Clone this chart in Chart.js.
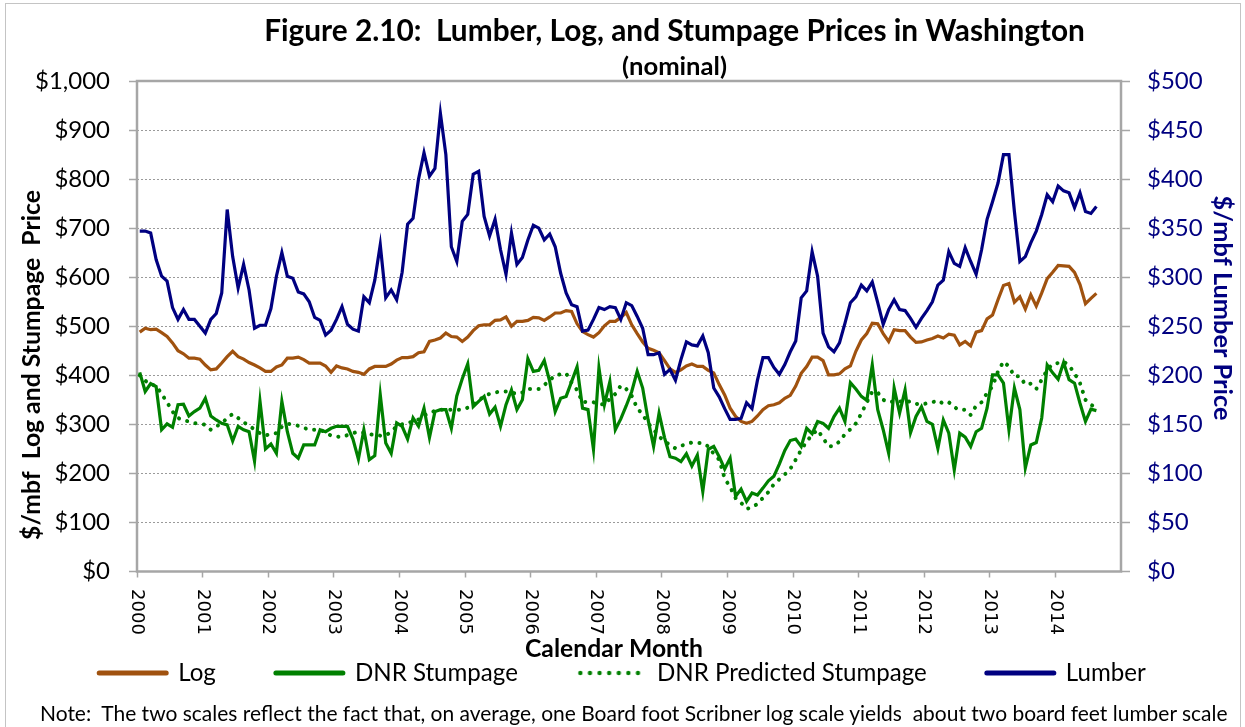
<!DOCTYPE html>
<html><head><meta charset="utf-8">
<script src="https://cdn.jsdelivr.net/npm/chart.js@4.4.1/dist/chart.umd.min.js"></script>
<style>
html,body{margin:0;padding:0;background:#fff;}
#wrap{position:relative;width:1245px;height:727px;overflow:hidden;background:#fff;}
canvas{position:absolute;left:0;top:0;}
#frame{position:absolute;left:5px;top:3px;width:1236px;height:760px;border:1.5px solid #c4c4c4;box-sizing:border-box;pointer-events:none;}
#note{position:absolute;left:40px;white-space:pre;color:#000;line-height:1;font-family:Lato,sans-serif;}
</style></head><body>
<div id="wrap"><canvas id="c" width="1245" height="727"></canvas><div id="frame"></div><div id="note"></div></div>
<script>
// ---------------- data ----------------
const years = [2000,2001,2002,2003,2004,2005,2006,2007,2008,2009,2010,2011,2012,2013,2014];
const monthNames = ['Jan','Feb','Mar','Apr','May','Jun','Jul','Aug','Sep','Oct','Nov','Dec'];
const yearLabels = years.map(String);
const months = [];
years.forEach(y => monthNames.forEach(m => months.push(m + ' ' + y)));

const logPrice = [488,496,493,494,487,479,466,450,444,435,
 435,433,421,411,413,425,438,449,438,433,
 426,421,415,408,408,417,421,435,435,437,
 432,425,425,425,419,406,419,415,413,408,
 406,402,413,418,418,418,423,431,436,436,
 438,446,448,469,472,476,486,479,478,469,
 478,491,501,503,503,512,513,519,500,510,
 510,512,518,517,512,519,527,527,532,530,
 505,489,483,478,487,501,510,510,518,528,
 503,485,468,455,451,446,430,413,406,411,
 419,423,418,418,410,405,381,360,333,316,
 306,302,306,317,330,338,340,344,353,359,
 378,404,418,437,437,430,401,401,403,413,
 419,449,472,485,506,505,485,469,493,491,
 491,478,467,468,472,475,480,476,484,482,
 462,469,460,488,491,515,523,554,583,587,
 549,560,535,564,541,568,597,610,624,623,
 622,610,585,546,557,567];

const dnrStumpage = [406,367,383,377,289,301,294,340,341,317,
 326,333,353,317,309,302,299,266,296,289,
 285,225,347,250,260,241,347,285,241,231,
 258,258,258,289,285,292,296,296,296,270,
 229,289,228,236,360,262,241,303,296,270,
 313,296,333,273,326,330,330,292,358,393,
 423,336,347,357,321,335,296,340,370,330,
 350,434,408,410,430,387,326,353,357,387,
 417,333,330,249,415,340,387,289,311,338,
 367,408,374,309,255,323,273,234,231,224,
 240,215,237,163,249,255,234,209,231,153,
 168,143,160,156,170,185,194,219,247,267,
 270,255,292,281,306,302,292,316,333,306,
 385,372,357,349,421,330,289,241,374,323,
 370,283,316,336,306,300,251,309,282,207,
 282,274,255,285,292,333,401,401,384,289,
 374,330,211,258,263,313,421,405,392,426,
 391,384,343,306,331,328];

const dnrPredicted = [400,389,381,379,362,345,326,313,308,306,
 302,302,299,289,296,302,313,321,313,304,
 298,289,282,277,281,282,295,301,300,297,
 293,289,289,289,283,277,275,274,278,282,
 285,283,280,278,277,277,285,296,300,304,
 305,310,318,322,328,330,330,330,330,330,
 334,340,348,358,362,365,367,367,365,362,
 365,372,372,372,380,390,400,402,404,385,
 370,345,346,345,342,340,352,362,379,372,
 358,333,320,302,290,275,266,258,251,256,
 260,263,262,262,255,240,228,190,172,150,
 140,128,130,138,150,162,178,188,198,209,
 228,248,265,279,289,272,255,256,265,280,
 290,302,322,345,367,365,350,345,347,347,
 345,347,342,340,343,345,349,342,345,335,
 329,330,319,338,345,364,377,408,428,418,
 398,398,381,383,372,391,411,423,425,428,
 420,404,384,350,340,333];

const lumberPrice = [347,347,345,318,301,296,269,257,267,257,
 257,250,243,257,263,284,369,321,289,313,
 287,248,251,251,268,301,325,301,299,285,
 283,275,259,256,241,246,257,270,252,247,
 245,280,274,297,333,279,287,277,305,354,
 360,400,427,403,411,467,425,331,316,357,
 364,405,408,362,342,359,328,303,345,313,
 320,338,353,350,338,344,331,304,284,272,
 270,245,246,257,269,267,270,269,257,274,
 271,260,248,221,221,223,201,206,195,216,
 234,231,230,240,223,187,178,166,155,155,
 156,172,166,195,218,218,208,201,211,224,
 235,279,286,326,301,243,229,224,233,253,
 274,280,292,286,295,274,252,267,277,267,
 266,258,249,258,266,275,292,297,326,314,
 311,330,316,303,328,359,377,396,425,425,
 367,316,321,335,347,364,384,377,393,388,
 386,371,386,367,365,372];

// ---------------- text ----------------
const TITLE = 'Figure 2.10:  Lumber, Log, and Stumpage Prices in Washington';
const SUBTITLE = '(nominal)';
const Y_LEFT_TITLE = '$/mbf  Log and Stumpage  Price';
const Y_RIGHT_TITLE = '$/mbf Lumber Price';
const X_TITLE = 'Calendar Month';
const NOTE = 'Note:  The two scales reflect the fact that, on average, one Board foot Scribner log scale yields  about two board feet lumber scale';

// ---------------- style ----------------
const FONT = 'Lato';
const BROWN = '#A0520F', GREEN = '#008000', NAVY = '#000080', GRAY = '#a6a6a6';
const mctx = document.createElement('canvas').getContext('2d');
function fit(text, weight, family, target) {
  mctx.font = weight + ' 100px ' + family;
  return 100 * target / mctx.measureText(text).width;
}
const S = {
  title: fit(TITLE, 'bold', FONT, 821),
  sub: fit(SUBTITLE, 'bold', FONT, 105),
  tick: fit('$1,000', 'normal', FONT, 75),
  yl: fit(Y_LEFT_TITLE, 'bold', FONT, 350),
  yr: fit(Y_RIGHT_TITLE, 'bold', FONT, 225),
  xt: fit(X_TITLE, 'bold', FONT, 178),
  legend: fit('DNR Predicted Stumpage', 'normal', FONT, 270),
  note: fit(NOTE, 'normal', FONT, 1190),
  year: fit('2000', 'normal', '"DejaVu Sans"', 46)
};
const AREA_TOP = 81, AREA_BOTTOM = 571.5, AREA_LEFT = 137, AREA_RIGHT = 1121;
const pt1 = 31 - 0.6 * S.title;
const h1 = pt1 + 1.2 * S.title;
const spt = 67 - 0.6 * S.sub - h1;
const spb = AREA_TOP - (h1 + spt + 1.2 * S.sub);
const LEGEND_H = S.legend + 70;
const HX = 727 - AREA_BOTTOM - LEGEND_H;

// dotted legend sample
const dotImg = document.createElement('canvas');
dotImg.width = 68; dotImg.height = 6;
(function () {
  const d = dotImg.getContext('2d');
  d.fillStyle = GREEN;
  for (let x = 3; x < 68; x += 9.6) { d.beginPath(); d.arc(x, 3, 2.2, 0, 2 * Math.PI); d.fill(); }
})();

const note = document.getElementById('note');
note.textContent = NOTE;
note.style.fontSize = S.note + 'px';
note.style.top = (712 - S.note / 2) + 'px';

const decor = {
  id: 'decor',
  afterLayout(chart) {
    const lg = chart.legend;
    const top = 673 - S.legend / 2 - 60;
    const h = lg.height;
    lg.top = top; lg.bottom = top + h;
    chart.boxes.forEach(b => {
      if (b.options && (b.options.text === TITLE || b.options.text === SUBTITLE)) { b.left += 52; b.right += 52; }
    });
  },
  beforeDatasetsDraw(chart) {
    const {ctx, chartArea: a} = chart;
    ctx.save();
    ctx.strokeStyle = GRAY; ctx.lineWidth = 2.5;
    ctx.strokeRect(a.left, a.top, a.right - a.left, a.bottom - a.top);
    ctx.restore();
  },
  afterDraw(chart) {
    const ctx = chart.ctx; const xs = chart.scales.x;
    const w = xs.getPixelForValue(1) - xs.getPixelForValue(0);
    ctx.save();
    ctx.fillStyle = '#000';
    ctx.font = S.year + 'px "DejaVu Sans"';
    ctx.textAlign = 'left'; ctx.textBaseline = 'middle';
    yearLabels.forEach((lab, j) => {
      const x = xs.getPixelForValue(j * 12) - w / 2;
      ctx.save(); ctx.translate(x, 589); ctx.rotate(Math.PI / 2); ctx.fillText(lab, 0, 0); ctx.restore();
    });
    ctx.textAlign = 'center';
    ctx.font = 'bold ' + S.xt + 'px ' + FONT;
    ctx.fillText(X_TITLE, 614, 649);
    ctx.font = 'bold ' + S.yl + 'px ' + FONT;
    ctx.save(); ctx.translate(32, 365); ctx.rotate(-Math.PI / 2); ctx.fillText(Y_LEFT_TITLE, 0, 0); ctx.restore();
    ctx.fillStyle = NAVY;
    ctx.font = 'bold ' + S.yr + 'px ' + FONT;
    ctx.save(); ctx.translate(1222, 308); ctx.rotate(Math.PI / 2); ctx.fillText(Y_RIGHT_TITLE, 0, 0); ctx.restore();
    ctx.restore();
  }
};

new Chart(document.getElementById('c'), {
  type: 'line',
  data: {
    labels: months,
    datasets: [
      {label: 'Log', data: logPrice, yAxisID: 'y', borderColor: BROWN, backgroundColor: BROWN, borderWidth: 3.2, pointRadius: 0, tension: 0, order: 3, pointStyle: 'line'},
      {label: 'DNR Stumpage', data: dnrStumpage, yAxisID: 'y', borderColor: GREEN, backgroundColor: GREEN, borderWidth: 3.2, pointRadius: 0, tension: 0, order: 2, pointStyle: 'line'},
      {label: 'DNR Predicted Stumpage', data: dnrPredicted, yAxisID: 'y', borderColor: GREEN, backgroundColor: GREEN, borderWidth: 4, borderDash: [0.1, 8.5], borderCapStyle: 'round', pointRadius: 0, tension: 0, order: 1, pointStyle: 'line'},
      {label: 'Lumber', data: lumberPrice, yAxisID: 'y1', borderColor: NAVY, backgroundColor: NAVY, borderWidth: 3.2, pointRadius: 0, tension: 0, order: 0, pointStyle: 'line'}
    ]
  },
  options: {
    responsive: false, animation: false, events: [],
    layout: {padding: 0},
    plugins: {
      title: {display: true, text: TITLE, color: '#000', font: {family: FONT, size: S.title, weight: 'bold'}, padding: {top: pt1, bottom: 0}},
      subtitle: {display: true, text: SUBTITLE, color: '#000', font: {family: FONT, size: S.sub, weight: 'bold'}, padding: {top: spt, bottom: spb}},
      legend: {
        position: 'bottom',
        labels: {
          usePointStyle: true, pointStyleWidth: 67, padding: 60, color: '#000',
          font: {family: FONT, size: S.legend},
          sort: (a, b) => a.datasetIndex - b.datasetIndex,
          generateLabels(chart) {
            return Chart.defaults.plugins.legend.labels.generateLabels(chart).map(it => Object.assign(it, {
              pointStyle: it.datasetIndex === 2 ? dotImg : 'line',
              lineWidth: 5, lineCap: 'round', fontColor: '#000'
            }));
          }
        }
      },
      tooltip: {enabled: false}
    },
    scales: {
      x: {
        type: 'category', offset: true,
        grid: {offset: true, drawOnChartArea: false, drawTicks: true, tickLength: 6, tickWidth: 1.5,
               color: c => (c.index !== undefined && c.index % 12 === 0) ? GRAY : 'rgba(0,0,0,0)'},
        border: {display: false},
        ticks: {display: false, autoSkip: false},
        afterFit: s => { s.height = HX; }
      },
      y: {
        position: 'left', min: 0, max: 1000,
        ticks: {stepSize: 100, padding: 19, color: '#000', font: {family: FONT, size: S.tick},
                callback: v => '$' + Number(v).toLocaleString('en-US')},
        grid: {color: '#9a9a9a', lineWidth: 1, drawTicks: true, tickLength: 8, tickColor: GRAY, tickWidth: 1.5, tickBorderDash: []},
        border: {display: false, dash: [2, 2]},
        afterFit: s => { s.width = AREA_LEFT; }
      },
      y1: {
        position: 'right', min: 0, max: 500,
        ticks: {stepSize: 50, padding: 17, color: NAVY, font: {family: FONT, size: S.tick},
                callback: v => '$' + v},
        grid: {drawOnChartArea: false, drawTicks: true, tickLength: 9, tickColor: GRAY, tickWidth: 1.5},
        border: {display: false},
        afterFit: s => { s.width = 1245 - AREA_RIGHT; }
      }
    }
  },
  plugins: [decor]
});
</script>
</body></html>
